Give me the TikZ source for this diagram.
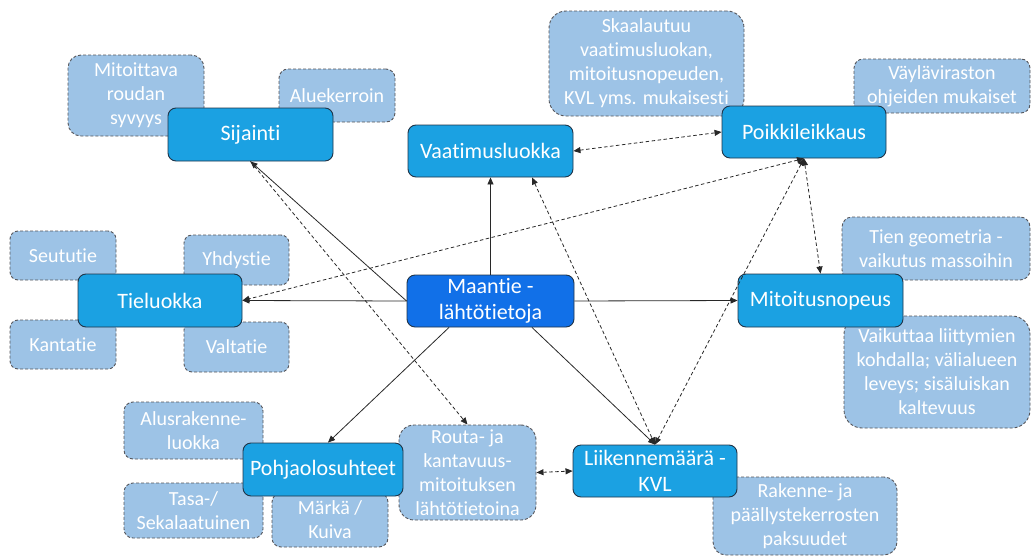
\documentclass[tikz,border=0pt]{standalone}
\usepackage{fontspec}
\setmainfont{Carlito}[Ligatures=NoCommon]
\usetikzlibrary{arrows.meta}
\definecolor{mainc}{RGB}{27,161,226}
\definecolor{rootc}{RGB}{17,112,232}
\definecolor{edgec}{RGB}{32,52,72}
\definecolor{subc}{RGB}{157,195,230}
\definecolor{subedge}{RGB}{85,85,90}
\definecolor{linec}{RGB}{40,40,40}
\tikzset{
  mainbox/.style={draw=edgec, line width=0.9pt, fill=mainc, text=white,
    font=\fontsize{22}{26.5}\selectfont, align=center, inner sep=0pt,
    rounded corners=8pt},
  rootbox/.style={mainbox, fill=rootc},
  subbox/.style={draw=subedge, dash pattern=on 3pt off 2pt, line width=0.9pt,
    fill=subc, text=white, font=\fontsize{20}{24}\selectfont, align=center,
    inner sep=0pt},
  link/.style={draw=linec, line width=0.8pt},
  dlink/.style={link, dash pattern=on 3.5pt off 2.5pt},
  >={Triangle[length=7pt,width=6pt]},
}
\begin{document}
\begin{tikzpicture}[x=1pt,y=-1pt]
\useasboundingbox (0,0) rectangle (1031,557);

% detail boxes (behind the topic boxes)
\node[subbox, minimum width=136pt, minimum height=81pt, rounded corners=13pt] (mitoittava) at (136,95.5) {Mitoittava\\roudan\\syvyys};
\node[subbox, minimum width=116pt, minimum height=53pt, rounded corners=9pt] (alue) at (337,95.5) {Aluekerroin};
\node[subbox, minimum width=195pt, minimum height=105pt, rounded corners=17pt] (skaala) at (646.5,63.5) {Skaalautuu\\vaatimusluokan,\\mitoitusnopeuden,\\KVL yms. mukaisesti};
\node[subbox, minimum width=176pt, minimum height=54pt, rounded corners=9pt] (vayla) at (942,86) {Väyläviraston\\ohjeiden mukaiset};
\node[subbox, minimum width=106pt, minimum height=49pt, rounded corners=8pt] (seutu) at (63,255.5) {Seututie};
\node[subbox, minimum width=105pt, minimum height=50pt, rounded corners=8pt] (yhdys) at (236.5,260) {Yhdystie};
\node[subbox, minimum width=106pt, minimum height=49pt, rounded corners=8pt] (kanta) at (63,344.5) {Kantatie};
\node[subbox, minimum width=105pt, minimum height=50pt, rounded corners=8pt] (valta) at (236.5,347) {Valtatie};
\node[subbox, minimum width=188pt, minimum height=63pt, rounded corners=10pt] (geom) at (936,248.5) {Tien geometria -\\vaikutus massoihin};
\node[subbox, minimum width=186pt, minimum height=112pt, rounded corners=18pt] (vaik) at (937,372) {Vaikuttaa liittymien\\kohdalla; välialueen\\leveys; sisäluiskan\\kaltevuus};
\node[subbox, minimum width=139pt, minimum height=57pt, rounded corners=9pt] (alus) at (193.5,430.5) {Alusrakenne-\\luokka};
\node[subbox, minimum width=139pt, minimum height=55pt, rounded corners=9pt] (tasa) at (193.5,510.5) {Tasa-/\\Sekalaatuinen};
\node[subbox, minimum width=116pt, minimum height=54pt, rounded corners=9pt] (marka) at (330,520) {Märkä /\\Kuiva};
\node[subbox, minimum width=137pt, minimum height=95pt, rounded corners=15pt] (routa) at (467.5,472.5) {Routa- ja\\kantavuus-\\mitoituksen\\lähtötietoina};
\node[subbox, minimum width=184pt, minimum height=78pt, rounded corners=13pt] (rakenne) at (805,516) {Rakenne- ja\\päällystekerrosten\\paksuudet};

% topic boxes
\node[mainbox, minimum width=165pt, minimum height=53pt] (sijainti) at (250.5,134.5) {Sijainti};
\node[mainbox, minimum width=165pt, minimum height=52pt] (vaatimus) at (490.5,151) {Vaatimusluokka};
\node[mainbox, minimum width=164pt, minimum height=52pt] (poikki) at (804,132) {Poikkileikkaus};
\node[mainbox, minimum width=164pt, minimum height=53pt] (tieluokka) at (160,300.5) {Tieluokka};
\node[rootbox, minimum width=167pt, minimum height=52pt] (maantie) at (490.5,301) {Maantie -\\lähtötietoja};
\node[mainbox, minimum width=165pt, minimum height=53pt] (mitoitus) at (820.5,300.5) {Mitoitusnopeus};
\node[mainbox, minimum width=160pt, minimum height=53pt] (pohja) at (323,469.5) {Pohjaolosuhteet};
\node[mainbox, minimum width=164pt, minimum height=52pt] (liikenne) at (655,471) {Liikennemäärä -\\KVL};

% solid links from the root topic
\draw[link,->] (maantie.west) -- (sijainti.south);
\draw[link,->] (maantie.west) -- (tieluokka.east);
\draw[link,->] (maantie.north) -- (vaatimus.south);
\draw[link,->] (maantie.east) -- (mitoitus.west);
\draw[link,->] ([xshift=-41.5pt]maantie.south) -- ([xshift=5pt]pohja.north);
\draw[link,->] ([xshift=41.5pt]maantie.south) -- (liikenne.north);

% dashed dependencies
\draw[dlink,->] (sijainti.south) -- (routa.north);
\draw[dlink,<->] (vaatimus.east) -- (poikki.west);
\draw[dlink,<->] (poikki.south) -- (tieluokka.east);
\draw[dlink,<->] (poikki.south) -- (mitoitus.north);
\draw[dlink,<->] (poikki.south) -- (liikenne.north);
\draw[dlink,<->] ([xshift=41.5pt]vaatimus.south) -- (liikenne.north);
\draw[dlink,<->] (routa.east) -- (liikenne.west);
\end{tikzpicture}
\end{document}
